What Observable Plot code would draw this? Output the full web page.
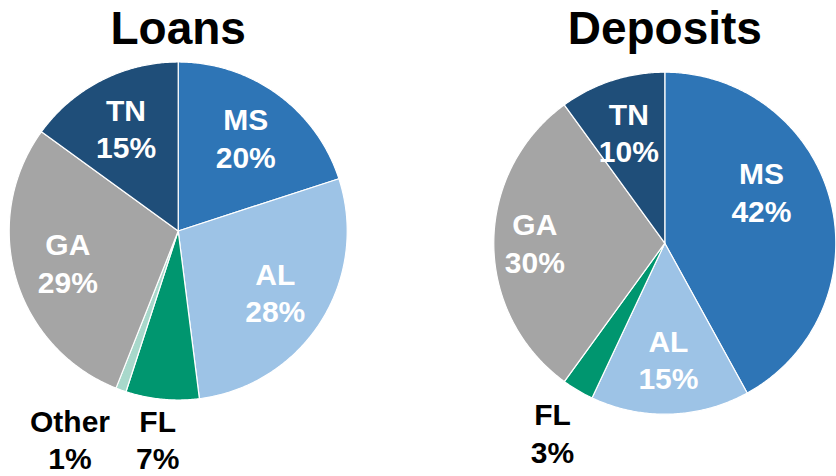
<!DOCTYPE html>
<html>
<head>
<meta charset="utf-8">
<script src="https://cdn.jsdelivr.net/npm/d3@7"></script>
<script src="https://cdn.jsdelivr.net/npm/@observablehq/plot@0.6"></script>
<style>
  html, body { margin: 0; padding: 0; background: #fff; }
</style>
</head>
<body>
<div id="chart"></div>
<script>
// ---------- data ----------
const pieTitles = ["Loans", "Deposits"];
const loansStates = ["MS", "AL", "FL", "Other", "GA", "TN"];
const loansShares = [20, 28, 7, 1, 29, 15];
const depositStates = ["MS", "AL", "FL", "GA", "TN"];
const depositShares = [42, 15, 3, 30, 10];

// ---------- styles & layout ----------
const stateColors = {
  MS: "#2E75B6", AL: "#9DC3E6", FL: "#00966F",
  Other: "#A8D8CB", GA: "#A5A5A5", TN: "#1F4E79"
};
const outsideStates = new Set(["FL", "Other"]);
const W = 836, H = 476;
const pieLayout = [
  {cx: 177.7, cy: 230.5, r: 169},
  {cx: 664.3, cy: 242.7, r: 171}
];
const titleBaseline = 43;
const insideRadius = 0.68, outsideRadius = 1.29;
const labelNudge = {
  "Loans|Other": {angle: 207, rf: 1.41},
  "Deposits|MS": {angle: 62, rf: 0.64},
  "Deposits|GA": {rf: 0.76}
};
const labelMaxY = H - 38; // keep two-line labels inside the picture
const FONT = "'Liberation Sans', Arial, Helvetica, sans-serif";

// ---------- geometry ----------
const rad = a => a * Math.PI / 180;
const polar = (L, a, rr) => ({x: L.cx + rr * Math.sin(rad(a)), y: L.cy - rr * Math.cos(rad(a))});

const slicePoints = [];
const labels = [];
const titleRows = [];

[[loansStates, loansShares], [depositStates, depositShares]].forEach(([states, shares], pi) => {
  const L = pieLayout[pi];
  const title = pieTitles[pi];
  const total = d3.sum(shares);
  titleRows.push({title, x: L.cx, y: titleBaseline});
  let acc = 0;
  states.forEach((s, i) => {
    const a0 = acc / total * 360;
    acc += shares[i];
    const a1 = acc / total * 360;
    const key = title + "|" + s;
    const color = stateColors[s];
    const c = {x: L.cx, y: L.cy};
    slicePoints.push({key, color, ...c});
    const n = Math.max(2, Math.ceil((a1 - a0) / 0.5));
    for (let k = 0; k <= n; ++k) {
      const p = polar(L, a0 + (a1 - a0) * k / n, L.r);
      slicePoints.push({key, color, ...p});
    }
    slicePoints.push({key, color, ...c});
    const outside = outsideStates.has(s);
    const nudge = labelNudge[key] || {};
    const la = nudge.angle ?? (a0 + a1) / 2;
    const rf = nudge.rf ?? (outside ? outsideRadius : insideRadius);
    const p = polar(L, la, rf * L.r);
    labels.push({text: `${s}\n${shares[i]}%`, x: p.x, y: Math.min(p.y - 1, labelMaxY), outside});
  });
});

const chart = Plot.plot({
  width: W,
  height: H,
  margin: 0,
  x: {domain: [0, W], range: [0, W], axis: null},
  y: {domain: [0, H], range: [0, H], axis: null},
  color: {type: "identity"},
  style: {background: "#fff"},
  marks: [
    Plot.line(slicePoints, {
      x: "x", y: "y", z: "key", fill: "color",
      stroke: "white", strokeWidth: 1.2, strokeLinejoin: "round"
    }),
    Plot.text(labels.filter(d => !d.outside), {
      x: "x", y: "y", text: "text", fill: "white",
      fontSize: 30, fontWeight: "bold", fontFamily: FONT, lineHeight: 1.25
    }),
    Plot.text(labels.filter(d => d.outside), {
      x: "x", y: "y", text: "text", fill: "black",
      fontSize: 30, fontWeight: "bold", fontFamily: FONT, lineHeight: 1.25
    }),
    Plot.text(titleRows, {
      x: "x", y: "y", text: "title", fill: "black", lineAnchor: "bottom",
      fontSize: 46, fontWeight: "bold", fontFamily: FONT
    })
  ]
});
document.getElementById("chart").appendChild(chart);
</script>
</body>
</html>
